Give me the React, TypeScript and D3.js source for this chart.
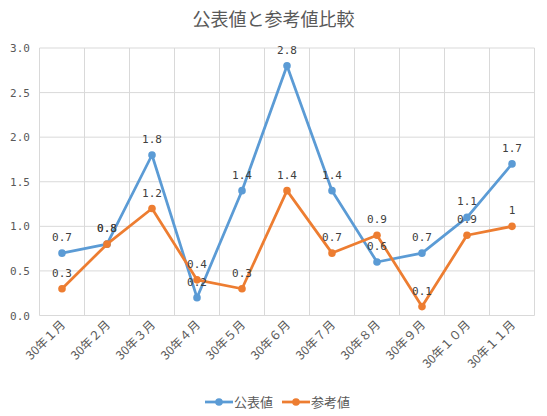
import React from "react";
import * as d3 from "d3";

const categories = ["30年１月", "30年２月", "30年３月", "30年４月", "30年５月", "30年６月", "30年７月", "30年８月", "30年９月", "30年１０月", "30年１１月"];
const koubyouValues = [0.7, 0.8, 1.8, 0.2, 1.4, 2.8, 1.4, 0.6, 0.7, 1.1, 1.7];
const sankouValues = [0.3, 0.8, 1.2, 0.4, 0.3, 1.4, 0.7, 0.9, 0.1, 0.9, 1.0];
const seriesNames = ["公表値", "参考値"];
const yTicks = [0, 0.5, 1.0, 1.5, 2.0, 2.5, 3.0];

const W = 547;
const H = 416;
const left = 39.5;
const right = 534.5;
const top = 48;
const bottom = 315.5;
const colors = ["#5B9BD5", "#ED7D31"];
const jpFont = "'Noto Sans CJK JP', sans-serif";
const monoFont = "'DejaVu Sans Mono', monospace";

export default function App() {
  const x = d3.scaleBand<string>().domain(categories).range([left, right]);
  const y = d3.scaleLinear().domain([0, 3]).range([bottom, top]);
  const cx = (c: string) => (x(c) as number) + x.bandwidth() / 2;
  const series = [koubyouValues, sankouValues];
  const line = d3
    .line<number>()
    .x((_, i) => cx(categories[i]))
    .y((d) => y(d));

  const fmt = (v: number) => (Number.isInteger(v) ? String(v) : v.toFixed(1));

  return (
    <svg width={W} height={H} style={{ position: "absolute", left: 0, top: 0, background: "#fff" }}>
      <text x={W / 2} y={26} textAnchor="middle" fontFamily={jpFont} fontSize={18} fill="#595959">
        公表値と参考値比較
      </text>
      {/* horizontal grid */}
      {yTicks.map((t) => (
        <g key={t}>
          <line x1={left} x2={right} y1={y(t)} y2={y(t)} stroke="#d9d9d9" strokeWidth={1} />
          <text x={20} y={y(t) + 4} textAnchor="middle" fontFamily={monoFont} fontSize={11} fill="#595959">
            {t.toFixed(1)}
          </text>
        </g>
      ))}
      {/* vertical grid */}
      {categories.map((c) => (
        <line key={c} x1={x(c)} x2={x(c)} y1={top} y2={bottom} stroke="#d9d9d9" strokeWidth={1} />
      ))}
      <line x1={right} x2={right} y1={top} y2={bottom} stroke="#d9d9d9" strokeWidth={1} />
      {/* x labels */}
      {categories.map((c) => (
        <text
          key={c}
          transform={`translate(${cx(c) + 4},${bottom + 10}) rotate(-45)`}
          textAnchor="end"
          fontFamily={jpFont}
          fontSize={12}
          fill="#595959"
        >
          {c}
        </text>
      ))}
      {/* series */}
      {series.map((vals, si) => (
        <g key={si}>
          <path d={line(vals) || ""} fill="none" stroke={colors[si]} strokeWidth={2.75} strokeLinejoin="round" strokeLinecap="round" />
          {vals.map((v, i) => (
            <circle key={i} cx={cx(categories[i])} cy={y(v)} r={3.8} fill={colors[si]} />
          ))}
        </g>
      ))}
      {/* data labels */}
      {series.map((vals, si) => (
        <g key={"l" + si}>
          {vals.map((v, i) => (
            <text
              key={i}
              x={cx(categories[i])}
              y={y(v) - 12}
              textAnchor="middle"
              fontFamily={monoFont}
              fontSize={11}
              fill="#404040"
            >
              {fmt(v)}
            </text>
          ))}
        </g>
      ))}
      {/* legend */}
      {seriesNames.map((n, i) => {
        const lx = 205 + i * 77;
        return (
          <g key={n}>
            <line x1={lx} x2={lx + 28} y1={402} y2={402} stroke={colors[i]} strokeWidth={2.75} />
            <circle cx={lx + 14} cy={402} r={3.8} fill={colors[i]} />
            <text x={lx + 29} y={407} fontFamily={jpFont} fontSize={13} fill="#595959">
              {n}
            </text>
          </g>
        );
      })}
    </svg>
  );
}
